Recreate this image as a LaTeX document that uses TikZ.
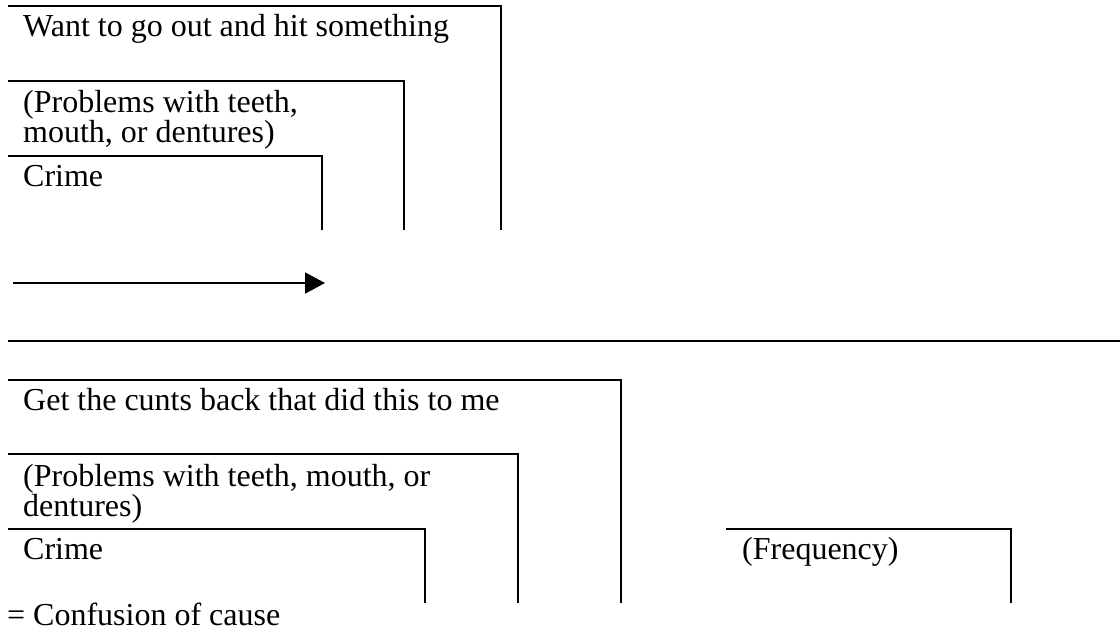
\documentclass[tikz,border=0pt]{standalone}
\usepackage{fontspec}
\setmainfont{Liberation Serif}
\usetikzlibrary{arrows.meta}
\begin{document}
\begin{tikzpicture}[x=1pt,y=-1pt,
  rule/.style={line width=2.2pt},
  label/.style={anchor=base west,inner sep=0pt,font=\fontsize{32}{30}\selectfont},
  pointer/.style={line width=2pt,-{Triangle[length=20pt,width=21pt]}}]
\useasboundingbox (0,0) rectangle (1120,641);

% upper nest of brackets
\draw[rule] (8,6) -| (501,230);
\draw[rule] (8,81) -| (404,230);
\draw[rule] (8,156) -| (322,230);
\node[label] (want) at (23,36) {Want to go out and hit something};
\node[label] (probA1) at (23,112) {(Problems with teeth,};
\node[label] (probA2) at (23,142) {mouth, or dentures)};
\node[label] (crimeA) at (23,186) {Crime};

% arrow between the two nests
\coordinate (arrowstart) at (13,283);
\coordinate (arrowend) at (325,283);
\draw[pointer] (arrowstart) -- (arrowend);

% dividing rule
\draw[line width=2.4pt] (8,341) -- (1120,341);

% lower nest of brackets
\draw[rule] (8,380) -| (621,603);
\draw[rule] (8,454) -| (518,603);
\draw[rule] (8,529) -| (425,603);
\draw[rule] (726,529) -| (1011,603);
\node[label] (get) at (23,410) {Get the cunts back that did this to me};
\node[label] (probB1) at (23,486) {(Problems with teeth, mouth, or};
\node[label] (probB2) at (23,516) {dentures)};
\node[label] (crimeB) at (23,559) {Crime};
\node[label] (freq) at (742,559) {(Frequency)};
\node[label] (confusion) at (7,625) {= Confusion of cause};
\end{tikzpicture}
\end{document}
